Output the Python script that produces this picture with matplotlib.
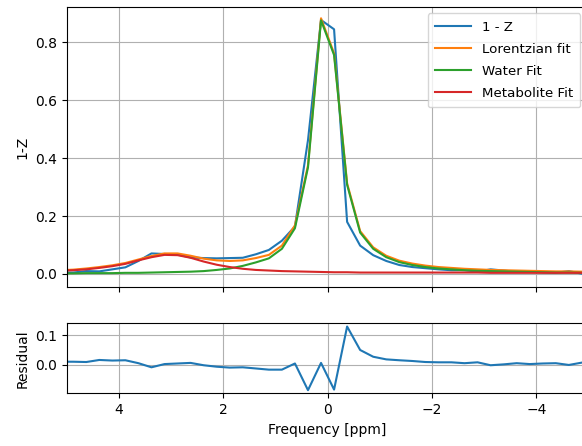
import numpy as np
import matplotlib
matplotlib.use("Agg")
import matplotlib.pyplot as plt

# saturation offsets [ppm]
offsets = [5.125, 4.875, 4.625, 4.375, 4.125, 3.875, 3.625, 3.375, 3.125, 2.875,
           2.625, 2.375, 2.125, 1.875, 1.625, 1.375, 1.125, 0.875, 0.625, 0.375,
           0.125, -0.125, -0.375, -0.625, -0.875, -1.125, -1.375, -1.625, -1.875, -2.125,
           -2.375, -2.625, -2.875, -3.125, -3.375, -3.625, -3.875, -4.125, -4.375, -4.625,
           -4.875, -5.125]

one_minus_z = [0.005, 0.005, 0.010, 0.009, 0.016, 0.023, 0.045, 0.071, 0.069, 0.067,
               0.057, 0.055, 0.054, 0.055, 0.056, 0.068, 0.083, 0.115, 0.164, 0.462,
               0.877, 0.845, 0.180, 0.098, 0.065, 0.045, 0.031, 0.024, 0.020, 0.016,
               0.013, 0.013, 0.008, 0.016, 0.012, 0.007, 0.009, 0.006, 0.004, 0.010,
               0.001, 0.001]

lorentz_fit = [0.013, 0.015, 0.019, 0.024, 0.030, 0.038, 0.050, 0.062, 0.071, 0.071,
               0.063, 0.053, 0.047, 0.045, 0.047, 0.055, 0.066, 0.098, 0.168, 0.375,
               0.883, 0.762, 0.313, 0.148, 0.092, 0.063, 0.046, 0.036, 0.029, 0.024,
               0.021, 0.018, 0.016, 0.014, 0.013, 0.012, 0.011, 0.010, 0.009, 0.009,
               0.008, 0.008]

water_fit = [0.002, 0.002, 0.003, 0.003, 0.003, 0.004, 0.004, 0.005, 0.006, 0.007,
             0.008, 0.010, 0.014, 0.019, 0.028, 0.040, 0.054, 0.087, 0.158, 0.368,
             0.876, 0.756, 0.308, 0.143, 0.087, 0.058, 0.041, 0.031, 0.024, 0.019,
             0.016, 0.013, 0.011, 0.010, 0.009, 0.008, 0.007, 0.006, 0.005, 0.005,
             0.004, 0.004]

metabolite_fit = [0.011, 0.013, 0.016, 0.021, 0.027, 0.035, 0.047, 0.058, 0.066, 0.065,
                  0.056, 0.043, 0.032, 0.024, 0.018, 0.014, 0.012, 0.010, 0.009, 0.008,
                  0.007, 0.006, 0.006, 0.005, 0.005, 0.005, 0.005, 0.005, 0.005, 0.005,
                  0.005, 0.005, 0.005, 0.004, 0.004, 0.004, 0.004, 0.004, 0.004, 0.004,
                  0.004, 0.004]

residual = [0.010, 0.010, 0.009, 0.016, 0.014, 0.015, 0.005, -0.009, 0.002, 0.004,
            0.006, -0.002, -0.007, -0.010, -0.009, -0.013, -0.017, -0.017, 0.004, -0.087,
            0.006, -0.085, 0.130, 0.050, 0.027, 0.018, 0.015, 0.0125, 0.009, 0.008,
            0.008, 0.005, 0.008, -0.002, 0.001, 0.005, 0.002, 0.004, 0.005, -0.001,
            0.007, 0.007]

fig = plt.figure(figsize=(5.82, 4.46), dpi=100)
ax1 = fig.add_axes([0.1146, 0.3558, 0.8964, 0.6292])
ax2 = fig.add_axes([0.1146, 0.1182, 0.8964, 0.1569], sharex=ax1)

# top: spectrum and fits
ax1.plot(offsets, one_minus_z, label='1 - Z')
ax1.plot(offsets, lorentz_fit, label='Lorentzian fit')
ax1.plot(offsets, water_fit, label='Water Fit')
ax1.plot(offsets, metabolite_fit, label='Metabolite Fit')
ax1.set_ylabel('1-Z')
ax1.set_ylim(-0.046, 0.923)
ax1.grid(True)
ax1.legend(loc='upper right', bbox_to_anchor=(0.997, 1.0), fontsize=9.6,
           handlelength=2.7, borderpad=0.55, labelspacing=0.68)
ax1.tick_params(labelbottom=False)

# bottom: residual
ax2.plot(offsets, residual)
ax2.set_ylabel('Residual')
ax2.set_xlabel('Frequency [ppm]')
ax2.set_yticks([0.0, 0.1])
ax2.set_ylim(-0.0976, 0.141)
ax2.grid(True)

ax1.set_xlim(5, -5)
ax1.set_xticks([4, 2, 0, -2, -4])

fig.savefig('out.png', dpi=100)
